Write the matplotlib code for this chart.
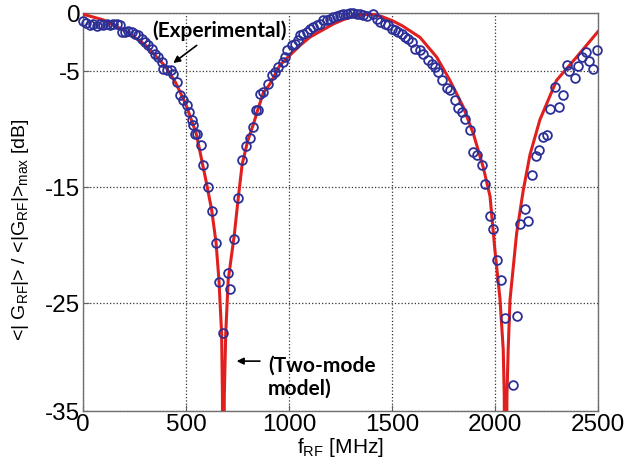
import matplotlib
matplotlib.use("Agg")
import matplotlib.pyplot as plt

# two-mode model (red line)
model_f = [0, 100, 200, 300, 400, 450, 500, 550, 600, 625, 646, 660, 673, 677, 681,
           686, 693, 705, 734, 754, 773, 800, 827, 851, 875, 908, 956, 989, 1053,
           1100, 1134, 1180, 1215, 1260, 1300, 1350, 1400, 1450, 1500, 1550, 1636,
           1717, 1781, 1846, 1895, 1943, 1976, 2000, 2024, 2040, 2045, 2050, 2058,
           2064, 2073, 2105, 2137, 2170, 2218, 2299, 2396, 2500]
model_db = [-0.1, -0.6, -1.5, -2.7, -4.6, -6.0, -7.9, -10.4, -14.7, -17.0, -19.8, -23.0, -27.6, -33.0, -60.0,
            -33.0, -27.6, -23.0, -19.2, -15.9, -13.0, -11.0, -9.6, -8.2, -6.9, -6.1, -4.5, -3.9, -2.8,
            -2.1, -1.75, -1.3, -0.95, -0.6, -0.35, -0.15, -0.1, -0.3, -0.65, -1.1, -2.1,
            -3.8, -5.8, -8.1, -10.4, -13.3, -15.8, -20.5, -24.6, -29.0, -33.0, -60.0, -33.0,
            -29.0, -24.7, -19.0, -15.3, -12.2, -9.2, -5.8, -3.8, -1.6]

# experimental points (blue circles)
exp_f = [2, 15, 34, 50, 66, 83, 99, 115, 131, 147, 164, 180, 188, 204, 220, 236, 252,
         268, 285, 301, 317, 333, 349, 366, 382, 390, 409, 426, 439, 455, 471, 487,
         503, 516, 528, 535, 544, 552, 571, 584, 608, 625, 646, 662, 681, 702, 714,
         734, 754, 773, 791, 811, 827, 840, 851, 859, 875, 900, 916, 932, 948, 969,
         980, 992, 1013, 1029, 1045, 1053, 1069, 1086, 1102, 1118, 1134, 1150, 1166,
         1183, 1199, 1215, 1231, 1248, 1264, 1280, 1296, 1312, 1329, 1345, 1361,
         1377, 1409, 1426, 1442, 1466, 1482, 1498, 1514, 1531, 1547, 1563, 1579,
         1595, 1611, 1636, 1652, 1676, 1692, 1709, 1725, 1741, 1765, 1781, 1806,
         1822, 1838, 1854, 1879, 1895, 1911, 1935, 1951, 1974, 1992, 2011, 2028,
         2048, 2086, 2105, 2121, 2147, 2162, 2179, 2199, 2215, 2234, 2251, 2267,
         2291, 2312, 2331, 2348, 2361, 2388, 2404, 2421, 2442, 2458, 2477, 2497]
exp_db = [-0.70, -0.87, -1.07, -0.98, -1.15, -0.98, -1.07, -0.92, -1.07, -0.98, -0.92,
          -1.07, -1.64, -1.64, -1.56, -1.64, -1.78, -1.93, -2.21, -2.50, -2.79, -3.07,
          -3.50, -3.79, -4.22, -4.79, -4.94, -4.88, -5.28, -5.94, -7.09, -7.52, -7.95,
          -8.52, -9.24, -9.66, -10.4, -10.4, -11.4, -13.1, -15.0, -17.1, -19.8, -23.2,
          -27.6, -22.4, -23.8, -19.5, -15.9, -12.7, -11.5, -10.8, -9.8, -8.4, -8.37,
          -6.94, -6.8, -6.08, -5.37, -5.08, -4.65, -4.22, -3.79, -3.22, -2.79, -2.64,
          -2.36, -1.93, -1.78, -1.64, -1.35, -1.21, -1.07, -0.92, -0.64, -0.58, -0.49,
          -0.35, -0.29, -0.21, -0.12, -0.06, 0.0, 0.0, -0.06, -0.12, -0.21, -0.29,
          -0.12, -0.49, -0.78, -0.92, -1.07, -1.35, -1.5, -1.64, -1.78, -2.07, -2.21,
          -2.5, -3.07, -3.22, -3.5, -4.08, -4.36, -4.65, -5.08, -5.8, -6.5, -6.65,
          -7.5, -8.2, -8.5, -9.1, -10.1, -12.0, -12.2, -13.1, -14.7, -17.5, -18.6,
          -21.3, -23.0, -26.3, -32.1, -26.1, -18.2, -16.9, -17.9, -14.0, -12.3, -11.8,
          -10.7, -10.5, -8.3, -6.4, -8.1, -7.1, -4.5, -5.0, -5.6, -4.6, -3.8, -3.4,
          -4.1, -4.8, -3.2]

xticks = [0, 500, 1000, 1500, 2000, 2500]
yticks = [-34.3, -25, -15, -5, 0]
ytick_labels = ["-35", "-25", "-15", "-5", "0"]

plt.rcParams["font.family"] = ["Liberation Sans", "DejaVu Sans"]
plt.rcParams["mathtext.default"] = "regular"

fig = plt.figure(figsize=(6.3, 4.7), dpi=100)
ax = fig.add_axes([0.1317, 0.1255, 0.8175, 0.8468])

ax.plot(model_f, model_db, "-", color="#e0201e", lw=2.2, zorder=3)
ax.plot(exp_f, exp_db, "o", mfc="none", mec="#2b2f96", mew=1.3, ms=6.3,
        zorder=4, clip_on=False)

ax.set_xlim(0, 2500)
ax.set_ylim(-34.3, 0)
ax.set_xticks(xticks)
ax.set_xticklabels([str(t) for t in xticks])
ax.set_yticks(yticks)
ax.set_yticklabels(ytick_labels)
ax.tick_params(direction="in", length=4, width=0.8, color="#606060",
               labelsize=17.5, pad=2)
ax.grid(True, linestyle=":", color="#333333", lw=0.9)
for s in ax.spines.values():
    s.set_color("#707070")
    s.set_linewidth(1.0)

ax.set_xlabel("f$_{RF}$ [MHz]", fontsize=15, labelpad=0)
ax.set_ylabel("<| G$_{RF}$|> / <|G$_{RF}$|>$_{max}$ [dB]", fontsize=14)
ax.yaxis.set_label_coords(-0.1, 0.455)

ann_font = ["Lato", "DejaVu Sans"]
arrow_kw = dict(arrowstyle="-|>", color="black", lw=1.2, mutation_scale=10,
                shrinkA=0, shrinkB=0)
ax.annotate("", xy=(438, -4.31), xytext=(552, -2.79), arrowprops=arrow_kw)
ax.text(665, -1.5, "(Experimental)", ha="center", va="center", fontsize=15,
        fontweight="bold", family=ann_font, zorder=5)
ax.annotate("", xy=(746, -30.0), xytext=(859, -30.0), arrowprops=arrow_kw)
ax.text(898, -31.4, "(Two-mode\nmodel)", ha="left", va="center", fontsize=15,
        fontweight="bold", family=ann_font, linespacing=1.2, zorder=5)

fig.savefig("out.png", dpi=100)
